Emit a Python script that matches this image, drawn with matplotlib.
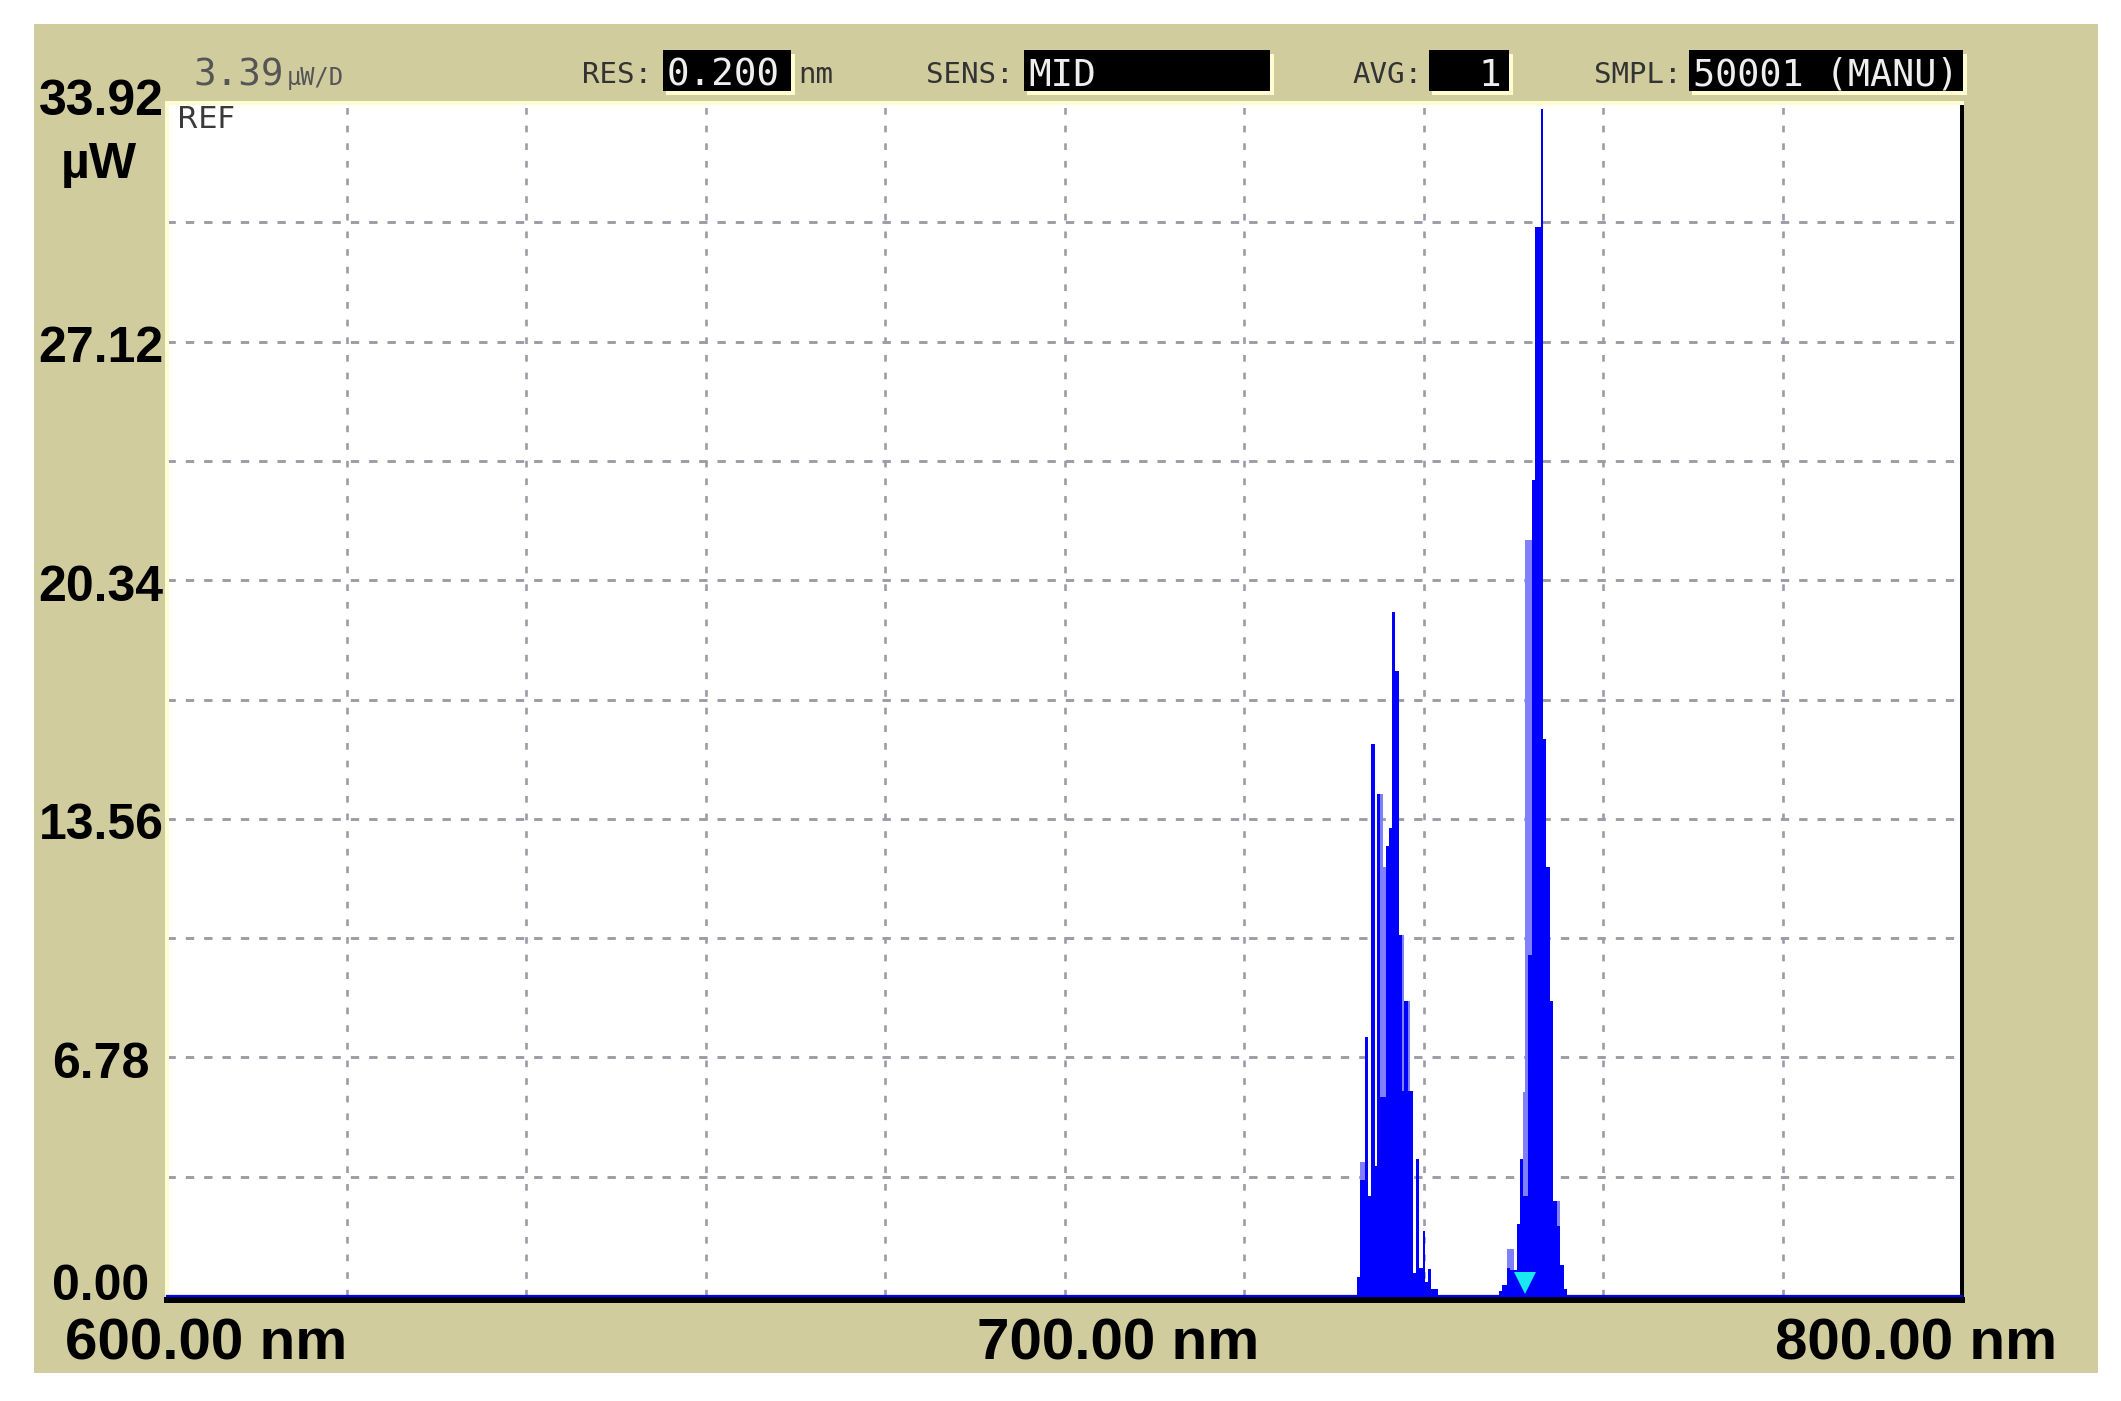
import matplotlib
matplotlib.use("Agg")
import matplotlib.pyplot as plt
import matplotlib.transforms as mtransforms
from matplotlib.patches import Rectangle
import numpy as np

plt.rcParams['lines.scale_dashes'] = False

W, H, DPI = 2121, 1401, 100

# ---------------- data ----------------
wl_range = [600.0, 800.0]
power_range = [0.0, 33.92]
n_div = 10
y_tick_values = [0.00, 6.78, 13.56, 20.34, 27.12, 33.92]
y_tick_labels = ["0.00", "6.78", "13.56", "20.34", "27.12", "33.92"]
y_unit = "µW"
x_tick_values = [600.0, 700.0, 800.0]
x_tick_labels = ["600.00 nm", "700.00 nm", "800.00 nm"]

# first emission band (step trace, value holds from wl[i] to wl[i+1])
peak1_wl = [732.57, 732.94, 733.49, 733.83, 734.20, 734.57, 734.80, 735.17, 735.54,
            735.80, 736.17, 736.54, 736.84, 737.29, 737.55, 737.84, 738.22, 738.51,
            738.88, 739.22, 739.52, 739.89, 740.19, 740.52, 740.82, 741.56]
peak1_pw = [0.55, 3.3, 7.35, 2.84, 15.7, 3.7, 14.26, 5.67, 5.67,
            12.8, 13.3, 19.46, 17.76, 10.25, 5.83, 8.38, 5.83, 5.83,
            0.65, 3.9, 0.8, 1.85, 0.4, 0.77, 0.2, 0.0]
peak1_env = [0.55, 3.8, 7.35, 2.84, 15.7, 3.7, 14.26, 14.26, 12.2,
             12.8, 13.3, 19.46, 17.76, 10.25, 10.25, 8.38, 8.38, 5.83,
             0.65, 3.9, 0.8, 1.85, 0.4, 0.77, 0.2, 0.0]

# second emission band
peak2_wl = [748.36, 748.74, 749.29, 749.67, 750.04, 750.41, 750.78, 751.04, 751.34,
            751.64, 752.08, 752.45, 752.75, 753.05, 753.31, 753.68, 754.13, 754.42,
            754.87, 755.24, 755.61, 755.99]
peak2_pw = [0.15, 0.3, 0.8, 0.75, 0.75, 2.04, 3.9, 2.84, 2.84,
            9.7, 23.2, 30.4, 30.4, 33.75, 15.85, 12.2, 8.4, 2.7,
            2.0, 0.89, 0.2, 0.0]
peak2_env = [0.15, 0.3, 1.35, 1.35, 0.75, 2.04, 3.9, 5.8, 21.5,
             21.5, 23.2, 30.4, 30.4, 33.75, 15.85, 12.2, 8.4, 2.7,
             2.7, 0.89, 0.2, 0.0]

marker_wl = 751.3
marker_pw = 0.36

scale_value = "3.39"
scale_unit = "µW/D"
ref_label = "REF"
header_labels = ["RES:", "SENS:", "AVG:", "SMPL:"]
header_values = ["0.200", "MID", "1", "50001 (MANU)"]
res_unit = "nm"

# ---------------- styling ----------------
KHAKI = "#d0cc9e"
CREAM = "#fffcd2"
BLUE = "#0000ff"
LIGHTBLUE = "#8080ff"
CYAN = "#19e8f2"
GRID = "#9e9ba6"

fig = plt.figure(figsize=(W / DPI, H / DPI), dpi=DPI)
fig.patch.set_facecolor("white")


def fx(x):
    return x / W


def fy(y):
    return 1 - y / H


def frect(x0, y0, x1, y1, **kw):
    r = Rectangle((fx(x0), fy(y1)), fx(x1) - fx(x0), fy(y0) - fy(y1),
                  transform=fig.transFigure, **kw)
    fig.patches.append(r)
    return r


# khaki instrument panel
frect(34, 24, 2098, 1373, facecolor=KHAKI, edgecolor="none", zorder=-10)

# plot area
PL, PR, PT, PB = 167, 1962, 103, 1296
ax = fig.add_axes([fx(PL), fy(PB), fx(PR) - fx(PL), fy(PT) - fy(PB)])
ax.set_zorder(1)
ax.set_facecolor("white")
ax.set_xlim(wl_range)
ax.set_ylim(power_range)

wl = [wl_range[0]] + peak1_wl + peak2_wl + [wl_range[1]]
pw = [0.0] + peak1_pw + peak2_pw + [0.0]
env = [0.0] + peak1_env + peak2_env + [0.0]

ax.fill_between(wl, env, step="post", color=LIGHTBLUE, lw=0, zorder=2)
ax.fill_between(wl, pw, step="post", color=BLUE, lw=0, zorder=2.1)
ax.plot(wl_range, [0, 0], color=BLUE, lw=1.6, clip_on=False, zorder=4)
ax.plot([marker_wl], [marker_pw], marker="v", markersize=16, color=CYAN,
        markeredgewidth=0, clip_on=False, zorder=5)

# grid
xdiv = np.linspace(wl_range[0], wl_range[1], n_div + 1)[1:-1]
ydiv = np.linspace(power_range[0], power_range[1], n_div + 1)[1:-1]
ax.set_xticks(xdiv)
ax.set_yticks(ydiv)
ax.tick_params(length=0, labelbottom=False, labelleft=False)
ax.set_axisbelow(True)
ax.xaxis.grid(True, color=GRID, lw=1.9, linestyle=(0, (4.8, 7.9)))
ax.yaxis.grid(True, color=GRID, lw=2.1, linestyle=(0, (6.0, 7.2)))

for s in ["left", "top"]:
    ax.spines[s].set_color(CREAM)
    ax.spines[s].set_linewidth(2.9)
ax.spines["right"].set_color("black")
ax.spines["right"].set_linewidth(2.9)
ax.spines["bottom"].set_color("black")
ax.spines["bottom"].set_linewidth(4.3)
ax.spines["bottom"].set_position(("outward", 2.9))

# y labels
ytrans = mtransforms.blended_transform_factory(fig.transFigure, ax.transData)
lab_font = dict(family="Liberation Sans", weight="bold", color="black")
for i, (v, t) in enumerate(zip(y_tick_values, y_tick_labels)):
    if i == 0:
        dy = -4
    elif i == len(y_tick_values) - 1:
        dy = -12
    else:
        dy = -20
    tr = mtransforms.offset_copy(ytrans, fig=fig, x=0, y=dy, units="dots")
    fig.text(fx(101), v, t, transform=tr, ha="center", va="baseline",
             fontsize=36, **lab_font)
fig.text(fx(99), fy(178), y_unit, ha="center", va="baseline", fontsize=36, **lab_font)

# x labels
xtrans = mtransforms.blended_transform_factory(ax.transData, fig.transFigure)
x_offsets = [-102, -87.5, 95]
x_aligns = ["left", "left", "right"]
for v, t, dx, ha in zip(x_tick_values, x_tick_labels, x_offsets, x_aligns):
    tr = mtransforms.offset_copy(xtrans, fig=fig, x=dx, y=0, units="dots")
    fig.text(v, fy(1360), t, transform=tr, ha=ha, va="baseline",
             fontsize=42, **lab_font)

# header
mono = "DejaVu Sans Mono"
fig.text(fx(193), fy(85), scale_value, ha="left", va="baseline", fontsize=27,
         family=mono, color="#555555")
fig.text(fx(287), fy(85), scale_unit, ha="left", va="baseline", fontsize=17,
         family=mono, color="#555555")
ax.text(fx(177), fy(128), ref_label, transform=fig.transFigure, ha="left",
        va="baseline", fontsize=22, family="DejaVu Sans", color="#3a3a3a", zorder=6)

label_right = [652, 1014, 1422, 1682]
boxes = [(663, 791), (1024, 1270), (1429, 1509), (1689, 1963)]
for lab, val, xr, (b0, b1), in zip(header_labels, header_values, label_right, boxes):
    fig.text(fx(xr), fy(83), lab, ha="right", va="baseline", fontsize=21,
             family=mono, color="#333333")
    frect(b0 + 3, 54, b1 + 4, 95, facecolor=CREAM, edgecolor="none", zorder=1)
    frect(b0, 50, b1, 91, facecolor="black", edgecolor="none", zorder=2)
    if val == header_values[2]:
        fig.text(fx(b1 - 8), fy(86), val, ha="right", va="baseline", fontsize=27,
                 family=mono, color="#eeeeee", zorder=3)
    else:
        fs = 26.5 if len(val) > 6 else 27
        fig.text(fx(b0 + 4), fy(86), val, ha="left", va="baseline", fontsize=fs,
                 family=mono, color="#eeeeee", zorder=3)
fig.text(fx(798), fy(83), res_unit, ha="left", va="baseline", fontsize=21,
         family=mono, color="#333333")

fig.savefig("out.png", dpi=DPI)
